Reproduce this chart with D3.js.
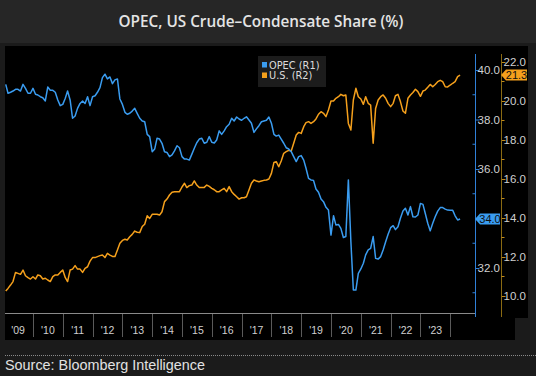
<!DOCTYPE html>
<html lang="en">
<meta charset="utf-8">
<head>
    <script src='https://d3js.org/d3.v7.min.js'></script>
    <style>
        body { margin: 0; background: #1b1b1b; }
        svg { display: block; }
    </style>
</head>
<body>
</body>

<script>
var width = 536, height = 376;

// monthly readings, first one is Feb 2009
var startMonth = new Date(2009, 1, 1);
var opec = [39.42,39.06,39.10,39.15,39.22,39.22,39.15,39.42,39.26,39.06,39.06,39.26,39.02,38.99,38.92,38.88,38.75,39.31,39.18,39.18,39.10,38.79,38.56,38.61,38.86,39.15,38.79,38.05,38.14,38.45,
    38.65,38.75,38.65,38.92,38.56,38.92,38.96,39.10,39.29,39.69,39.83,39.64,39.72,39.45,39.60,39.64,38.83,38.61,38.29,38.21,38.25,38.34,38.45,38.25,38.05,37.94,37.91,37.40,37.31,36.70,36.81,37.24,
    37.21,37.04,36.70,36.67,36.50,36.57,36.73,36.94,36.86,36.50,36.40,36.40,36.36,36.59,36.84,37.06,37.21,37.24,37.04,37.08,37.31,37.08,37.05,37.17,37.54,37.40,37.54,37.71,37.81,38.05,37.94,
    38.10,38.02,37.97,38.05,38.11,37.98,37.85,37.48,37.62,37.75,37.91,37.94,37.97,38.10,37.85,37.40,37.33,37.37,37.21,37.04,36.86,36.81,36.70,36.50,36.30,36.50,36.54,36.36,36.03,35.62,35.56,
    35.54,35.19,35.06,34.79,34.68,34.45,34.34,33.33,34.11,33.74,33.76,33.60,33.23,33.27,35.56,33.06,31.11,31.11,31.78,31.96,32.19,32.53,32.73,32.79,33.27,32.39,32.36,32.46,32.73,33.06,33.36,33.63,
    33.71,33.55,33.67,34.01,34.30,34.41,34.14,34.48,34.07,34.06,34.14,34.61,34.57,34.21,33.81,33.50,33.81,34.07,34.30,34.44,34.44,34.38,34.34,34.33,34.33,34.11,33.94,33.98];
var us = [10.26,10.39,10.56,10.74,11.21,11.16,11.11,11.33,11.04,10.94,10.87,10.99,10.87,11.08,11.04,10.87,10.91,10.82,10.74,10.99,11.08,11.08,11.21,11.33,10.94,10.74,11.33,11.38,11.56,11.38,
    11.38,11.21,11.42,11.50,11.79,11.97,11.97,12.02,12.07,12.10,11.97,12.19,12.10,12.03,12.02,12.36,12.70,12.85,12.91,12.87,13.04,13.16,13.33,13.27,13.25,13.56,13.68,14.12,13.98,14.19,14.19,14.19,
    14.15,14.32,14.84,14.97,15.18,15.32,15.35,15.35,15.35,15.59,15.78,15.56,15.66,15.69,15.90,15.69,15.56,15.56,15.57,15.69,15.62,15.52,15.45,15.35,15.35,15.44,15.52,15.35,15.61,15.35,15.21,
    15.09,14.97,15.04,15.04,15.09,15.44,15.78,15.95,15.90,15.86,15.90,15.93,15.95,16.00,16.29,16.85,16.89,16.63,16.92,17.32,17.40,17.47,17.44,17.83,18.26,18.39,18.34,18.68,18.89,18.94,18.85,
    18.94,19.08,19.32,19.45,19.37,19.20,19.54,20.00,20.00,20.14,20.22,20.34,20.27,20.31,18.85,18.51,20.05,20.65,20.22,20.10,19.83,20.22,19.88,19.79,17.83,19.62,20.05,20.22,20.31,20.14,19.88,19.71,
    19.88,20.27,20.34,19.97,19.49,19.37,20.14,20.31,20.44,20.60,20.48,20.24,20.51,20.56,20.70,20.85,20.73,20.85,20.99,21.06,20.99,20.73,20.72,20.82,20.91,20.99,21.25,21.33];

var years = d3.range(2009, 2024);
var opecTicks = [32, 36, 38, 40];   // 34.0 is covered by the last-value tag
var opecMinor = [31, 33, 35, 37, 39];
var usTicks = [10, 12, 14, 16, 18, 20, 22];
var usMinor = [11, 13, 15, 17, 19, 21];

var blue = '#3a9cf0', orange = '#f5a01c';

var svg = d3.select('body').append('svg').attr('width', width).attr('height', height);

// title bar
svg.append('rect').attr('width', width).attr('height', 43).attr('fill', '#262626');
svg.append('text').attr('x', 261).attr('y', 27).attr('text-anchor', 'middle')
    .attr('font-family', 'Open Sans').attr('font-weight', 600).attr('font-size', 15.3)
    .attr('fill', '#e4e4e4').text('OPEC, US Crude\u2013Condensate Share (%)');

// black panels
svg.append('rect').attr('x', 5).attr('y', 46).attr('width', 523).attr('height', 272).attr('fill', '#000');
svg.append('rect').attr('x', 5).attr('y', 317).attr('width', 510).attr('height', 23).attr('fill', '#000');

var x = d3.scaleTime()
    .domain([new Date(2009, 0, 1), new Date(2024, 0, 1)])
    .range([3.2, 450.2]);
var yOpec = d3.scaleLinear().domain([32, 40]).range([268, 70]);
var yUs = d3.scaleLinear().domain([10, 22]).range([296, 62]);

var dates = opec.map(function(d, i) { return d3.timeMonth.offset(startMonth, i); });

// x axis line + year separators
svg.append('line').attr('x1', 5).attr('x2', 475).attr('y1', 313.5).attr('y2', 313.5)
    .attr('stroke', '#8a8a8a').attr('stroke-width', 1);
svg.selectAll('.sep').data(years.slice(1).concat([2024])).join('line')
    .attr('x1', function(d) { return Math.round(x(new Date(d, 0, 1))) + 0.5; })
    .attr('x2', function(d) { return Math.round(x(new Date(d, 0, 1))) + 0.5; })
    .attr('y1', 314).attr('y2', 337)
    .attr('stroke', '#5a5a5a');
svg.selectAll('.yr').data(years).join('text')
    .attr('x', function(d) { return (x(new Date(d, 0, 1)) + x(new Date(d + 1, 0, 1))) / 2; })
    .attr('y', 334).attr('text-anchor', 'middle')
    .attr('font-family', 'Liberation Sans').attr('font-size', 10.5).attr('fill', '#d0d0d0')
    .text(function(d) { return "'" + String(d).slice(2); });

// right axes
var opecAxis = d3.axisRight(yOpec).tickValues(opecTicks).tickSize(4).tickFormat(d3.format('.1f'));
var gO = svg.append('g').attr('transform', 'translate(475.5,0)').call(opecAxis);
gO.select('.domain').remove();
gO.selectAll('line').attr('stroke', '#2f80d8');
gO.selectAll('text').attr('fill', '#d0d0d0').attr('font-family', 'Liberation Sans').attr('font-size', 11.5).attr('x', 2);
svg.append('line').attr('x1', 475.5).attr('x2', 475.5).attr('y1', 54).attr('y2', 317).attr('stroke', '#2f80d8');
svg.selectAll('.om').data(opecMinor).join('line')
    .attr('x1', 472.5).attr('x2', 475.5)
    .attr('y1', function(d) { return yOpec(d); }).attr('y2', function(d) { return yOpec(d); })
    .attr('stroke', '#2f80d8');

var usAxis = d3.axisRight(yUs).tickValues(usTicks).tickSize(4).tickFormat(d3.format('.1f'));
var gU = svg.append('g').attr('transform', 'translate(501.5,0)').call(usAxis);
gU.select('.domain').remove();
gU.selectAll('line').attr('stroke', '#c08a1a');
gU.selectAll('text').attr('fill', '#d0d0d0').attr('font-family', 'Liberation Sans').attr('font-size', 11.5).attr('x', 2);
svg.append('line').attr('x1', 501.5).attr('x2', 501.5).attr('y1', 54).attr('y2', 317).attr('stroke', '#8a6a12');
svg.selectAll('.um').data(usMinor).join('line')
    .attr('x1', 501.5).attr('x2', 504.5)
    .attr('y1', function(d) { return yUs(d); }).attr('y2', function(d) { return yUs(d); })
    .attr('stroke', '#c08a1a');

// lines
var opecLine = d3.line().x(function(d, i) { return x(dates[i]); }).y(function(d) { return yOpec(d); });
var usLine = d3.line().x(function(d, i) { return x(dates[i]); }).y(function(d) { return yUs(d); });
svg.append('path').datum(us).attr('d', usLine).attr('fill', 'none')
    .attr('stroke', orange).attr('stroke-width', 1.5).attr('stroke-linejoin', 'round');
svg.append('path').datum(opec).attr('d', opecLine).attr('fill', 'none')
    .attr('stroke', blue).attr('stroke-width', 1.5).attr('stroke-linejoin', 'round');

// last value tags
function tag(x0, yv, w, col, txt) {
    var h = 11;
    svg.append('path')
        .attr('d', 'M' + x0 + ',' + yv + 'L' + (x0 + 5) + ',' + (yv - h / 2) + 'H' + (x0 + w) +
            'V' + (yv + h / 2) + 'H' + (x0 + 5) + 'Z')
        .attr('fill', col);
    svg.append('text').attr('x', x0 + 5 + (w - 5) / 2).attr('y', yv + 4).attr('text-anchor', 'middle')
        .attr('font-family', 'Liberation Sans').attr('font-size', 11).attr('fill', '#101010').text(txt);
}
tag(475, yOpec(opec[opec.length - 1]), 25, blue, d3.format('.1f')(opec[opec.length - 1]));
tag(501, yUs(us[us.length - 1]), 26, orange, d3.format('.1f')(us[us.length - 1]));

// legend
var legend = [{name: 'OPEC (R1)', color: blue}, {name: 'U.S. (R2)', color: orange}];
svg.append('rect').attr('x', 258).attr('y', 56).attr('width', 68).attr('height', 31).attr('fill', '#1c1c1c');
var lg = svg.selectAll('.lg').data(legend).join('g')
    .attr('transform', function(d, i) { return 'translate(262,' + (65 + i * 10.5) + ')'; });
lg.append('rect').attr('x', 0).attr('y', -3).attr('width', 5).attr('height', 5.5).attr('fill', function(d) { return d.color; });
lg.append('text').attr('x', 7).attr('y', 3.5)
    .attr('font-family', 'DejaVu Sans').attr('font-size', 9.8).attr('fill', '#dcdcdc')
    .text(function(d) { return d.name; });

// footer
svg.append('line').attr('x1', 5).attr('x2', width).attr('y1', 355.5).attr('y2', 355.5)
    .attr('stroke', '#8a8a8a').attr('stroke-dasharray', '1,1');
svg.append('text').attr('x', 5).attr('y', 370)
    .attr('font-family', 'Liberation Sans').attr('font-size', 14.4).attr('fill', '#e2e2e2')
    .text('Source: Bloomberg Intelligence');
</script>
</html>
